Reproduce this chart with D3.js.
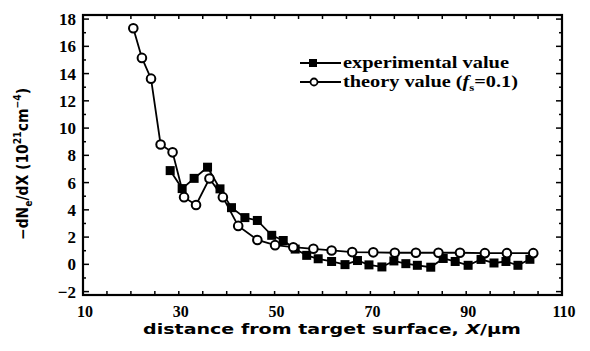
<!DOCTYPE html>
<html>
<head>
<meta charset="utf-8">
<script src="https://cdn.jsdelivr.net/npm/d3@7"></script>
<style>
body{margin:0;background:#fff;}
svg{display:block;}
</style>
</head>
<body>
<div id="canvas"></div>
<script>
// data
var expX = [28.2,30.7,33.2,36.0,38.6,41.0,43.8,46.4,49.4,51.8,54.3,56.7,59.1,61.9,64.7,67.3,69.7,72.4,74.9,77.4,79.8,82.6,85.2,87.7,90.4,93.1,95.8,98.3,100.8,103.3];
var expY = [6.88,5.56,6.31,7.13,5.54,4.16,3.43,3.22,2.13,1.75,1.12,0.66,0.41,0.21,-0.02,0.28,-0.04,-0.19,0.25,0.05,-0.07,-0.21,0.43,0.21,-0.07,0.36,0.10,0.21,-0.07,0.37];
var thX = [20.5,22.3,24.2,26.2,28.7,31.1,33.6,36.4,39.2,42.4,46.4,50.1,53.9,58.1,61.9,66.2,70.6,75.1,79.5,84.2,88.7,93.9,98.5,104.0];
var thY = [17.33,15.15,13.63,8.8,8.22,4.93,4.36,6.3,4.93,2.82,1.79,1.41,1.26,1.14,1.02,0.9,0.88,0.85,0.85,0.85,0.85,0.82,0.82,0.82];
var xTicks = [10,30,50,70,90,110];
var yTicks = [-2,0,2,4,6,8,10,12,14,16,18];

var W = 590, H = 351;
var m = {t:15,r:28,b:56,l:83};
var w = W - m.l - m.r, h = H - m.t - m.b;

var svg = d3.select('#canvas').append('svg')
    .attr('width',W).attr('height',H);
var plot = svg.append('g').attr('transform','translate('+m.l+','+m.t+')');

var x = d3.scaleLinear().domain([10,110]).range([0,w]);
var y = d3.scaleLinear().domain([-2.25,18.3]).range([h,0]);

//ticks (inward, all four sides)
var tk = plot.append('g').attr('stroke','#000').attr('stroke-width',1.5);
d3.range(10,111,5).forEach(function(v){
    var l = 4;
    tk.append('line').attr('x1',x(v)).attr('x2',x(v)).attr('y1',h).attr('y2',h-l);
    tk.append('line').attr('x1',x(v)).attr('x2',x(v)).attr('y1',0).attr('y2',l);
});
d3.range(-2,18.1,1).forEach(function(v){
    var l = (v%2===0) ? 6 : 3;
    tk.append('line').attr('x1',0).attr('x2',l).attr('y1',y(v)).attr('y2',y(v));
    tk.append('line').attr('x1',w).attr('x2',w-l).attr('y1',y(v)).attr('y2',y(v));
});

//frame
plot.append('rect').attr('width',w).attr('height',h)
    .attr('fill','none').attr('stroke','#000').attr('stroke-width',2.2);

//tick labels
plot.append('g').selectAll('text').data(yTicks).enter().append('text')
    .attr('x',-7).attr('y',function(d){return y(d)+6;})
    .attr('text-anchor','end')
    .style('font','bold 17px "Liberation Serif", serif')
    .text(function(d){return d<0 ? '\u2212'+(-d) : d;});
plot.append('g').selectAll('text').data(xTicks).enter().append('text')
    .attr('x',function(d){return x(d)+2;}).attr('y',h+22)
    .attr('text-anchor','middle')
    .style('font','bold 16px "Liberation Serif", serif')
    .text(function(d){return d;});

//axis titles
svg.append('text').attr('x',332).attr('y',334)
    .attr('text-anchor','middle')
    .attr('textLength',378).attr('lengthAdjust','spacingAndGlyphs')
    .style('font','bold 14px "DejaVu Sans", sans-serif')
    .html('distance from target surface, <tspan font-style="italic">X</tspan>/\u03bcm');

var yl = svg.append('text').attr('transform','translate(28,240) rotate(-90)')
    .attr('textLength',152).attr('lengthAdjust','spacingAndGlyphs')
    .style('font','bold 15px "DejaVu Sans", sans-serif');
yl.append('tspan').text('\u2212dN');
yl.append('tspan').attr('dy',4).style('font-size','10px').text('e');
yl.append('tspan').attr('dy',-4).text('/dX (10');
yl.append('tspan').attr('dy',-7).style('font-size','10px').text('21');
yl.append('tspan').attr('dy',7).text('cm');
yl.append('tspan').attr('dy',-7).style('font-size','10px').text('\u22124');
yl.append('tspan').attr('dy',7).text(')');

//lines
var line = d3.line().x(function(d){return x(d[0]);}).y(function(d){return y(d[1]);});
var expData = expX.map(function(v,i){return [v,expY[i]];});
var thData = thX.map(function(v,i){return [v,thY[i]];});

plot.append('path').datum(expData).attr('d',line)
    .attr('fill','none').attr('stroke','#000').attr('stroke-width',1.8);
plot.append('path').datum(thData).attr('d',line)
    .attr('fill','none').attr('stroke','#000').attr('stroke-width',1.8);

plot.selectAll('rect.exp').data(expData).enter().append('rect')
    .attr('class','exp')
    .attr('x',function(d){return x(d[0])-4.5;})
    .attr('y',function(d){return y(d[1])-4.5;})
    .attr('width',9).attr('height',9).attr('fill','#000');

plot.selectAll('circle.th').data(thData).enter().append('circle')
    .attr('class','th')
    .attr('cx',function(d){return x(d[0]);})
    .attr('cy',function(d){return y(d[1]);})
    .attr('r',4.3).attr('fill','#fff').attr('stroke','#000').attr('stroke-width',2);

//legend
var lg = svg.append('g');
lg.append('line').attr('x1',300).attr('x2',341).attr('y1',63).attr('y2',63)
    .attr('stroke','#000').attr('stroke-width',1.8);
lg.append('rect').attr('x',309).attr('y',59).attr('width',8).attr('height',8).attr('fill','#000');
lg.append('text').attr('x',343).attr('y',68)
    .attr('textLength',166).attr('lengthAdjust','spacingAndGlyphs')
    .style('font','bold 16px "Liberation Serif", serif')
    .text('experimental value');
lg.append('line').attr('x1',300).attr('x2',341).attr('y1',82).attr('y2',82)
    .attr('stroke','#000').attr('stroke-width',1.8);
lg.append('circle').attr('cx',314).attr('cy',82).attr('r',3.5)
    .attr('fill','#fff').attr('stroke','#000').attr('stroke-width',1.8);
var t2 = lg.append('text').attr('x',343).attr('y',87)
    .attr('textLength',175).attr('lengthAdjust','spacingAndGlyphs')
    .style('font','bold 16px "Liberation Serif", serif');
t2.append('tspan').text('theory value (');
t2.append('tspan').style('font-style','italic').text('f');
t2.append('tspan').attr('dy',4).style('font-size','10px').text('s');
t2.append('tspan').attr('dy',-4).text('=0.1)');
</script>
</body>
</html>
